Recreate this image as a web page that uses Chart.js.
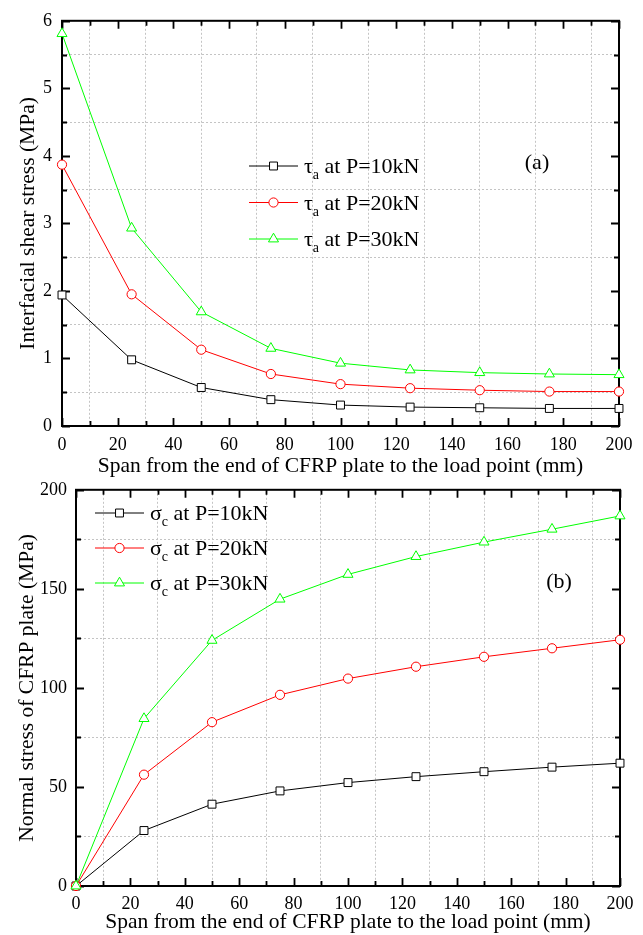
<!DOCTYPE html>
<html>
<head>
<meta charset="UTF-8">
<title>Interfacial shear stress and normal stress of CFRP plate</title>
<script src="https://cdn.jsdelivr.net/npm/chart.js"></script>
<style>
    body { margin: 0; background: #fff; }
    .painel { position: absolute; left: 0; }
</style>
</head>
<body>
    <div class="painel" style="top: 0px;"><canvas id="grafA" width="643" height="480"></canvas></div>
    <div class="painel" style="top: 470px;"><canvas id="grafB" width="643" height="465"></canvas></div>

<script>
    // dados
    const vaos = [0, 25, 50, 75, 100, 125, 150, 175, 200];

    const tau10 = [1.94, 0.98, 0.57, 0.39, 0.31, 0.28, 0.27, 0.26, 0.26];
    const tau20 = [3.87, 1.95, 1.13, 0.77, 0.62, 0.56, 0.53, 0.51, 0.51];
    const tau30 = [5.81, 2.93, 1.69, 1.15, 0.93, 0.83, 0.79, 0.77, 0.76];

    const sig10 = [0, 28, 41.3, 48, 52.2, 55.2, 57.7, 60, 62];
    const sig20 = [0, 56.2, 82.7, 96.5, 104.7, 110.7, 115.7, 120, 124.3];
    const sig30 = [0, 84.5, 124, 144.8, 157.3, 166.3, 173.6, 180.1, 186.8];

    const cargas = ['P=10kN', 'P=20kN', 'P=30kN'];
    const cores = ['#000000', '#ff0000', '#00ff00'];
    const marcadores = ['rect', 'circle', 'triangle'];
    const raios = [5.6, 4.6, 5.8];

    const tituloX = 'Span from the end of CFRP plate to the load point (mm)';

    Chart.defaults.font.family = '"Liberation Serif", "Times New Roman", serif';
    Chart.defaults.color = '#000';

    function ehMaior(v, passo) {
        return Math.abs(v / passo - Math.round(v / passo)) < 1e-6;
    }

    function montarSeries(listas) {
        return listas.map(function (valores, i) {
            return {
                label: cargas[i],
                data: vaos.map(function (x, j) { return { x: x, y: valores[j] }; }),
                borderColor: cores[i],
                borderWidth: 1,
                pointStyle: marcadores[i],
                pointRadius: raios[i],
                pointBackgroundColor: '#ffffff',
                pointBorderColor: cores[i],
                pointBorderWidth: 1,
                tension: 0,
                clip: false,
                order: 2 - i
            };
        });
    }

    function desenharMarcador(ctx, tipo, x, y, r) {
        ctx.beginPath();
        if (tipo === 'rect') {
            const s = r * Math.SQRT1_2;
            ctx.rect(x - s, y - s, 2 * s, 2 * s);
        } else if (tipo === 'circle') {
            ctx.arc(x, y, r, 0, Math.PI * 2);
        } else {
            for (let k = 0; k < 3; k++) {
                const a = k * 2 * Math.PI / 3;
                const px = x + Math.sin(a) * r, py = y - Math.cos(a) * r;
                if (k === 0) ctx.moveTo(px, py); else ctx.lineTo(px, py);
            }
            ctx.closePath();
        }
        ctx.fill();
        ctx.stroke();
    }

    // moldura e marcas para dentro
    const moldura = {
        id: 'moldura',
        beforeDatasetsDraw(chart, args, op) {
            const ctx = chart.ctx, a = chart.chartArea;
            const xs = chart.scales.x, ys = chart.scales.y;
            ctx.save();
            ctx.strokeStyle = '#000';
            ctx.lineWidth = 1.8;
            ctx.beginPath();
            xs.ticks.forEach(function (t) {
                const px = Math.round(xs.getPixelForValue(t.value)) + 0.5;
                const len = ehMaior(t.value, op.passoX * 2) ? 8 : 5;
                ctx.moveTo(px, a.bottom); ctx.lineTo(px, a.bottom - len);
                ctx.moveTo(px, a.top); ctx.lineTo(px, a.top + len);
            });
            ys.ticks.forEach(function (t) {
                const py = Math.round(ys.getPixelForValue(t.value)) + 0.5;
                const len = ehMaior(t.value, op.passoY * 2) ? 8 : 5;
                ctx.moveTo(a.left, py); ctx.lineTo(a.left + len, py);
                ctx.moveTo(a.right, py); ctx.lineTo(a.right - len, py);
            });
            ctx.stroke();
            ctx.lineWidth = 2;
            ctx.strokeRect(a.left, a.top, a.right - a.left, a.bottom - a.top);
            ctx.restore();
        }
    };

    // legenda com subscrito e rotulo (a)/(b)
    const legendaSub = {
        id: 'legendaSub',
        afterDraw(chart, args, op) {
            const ctx = chart.ctx;
            ctx.save();
            chart.data.datasets.forEach(function (ds, i) {
                const y = op.y + i * op.dy;
                ctx.strokeStyle = ds.borderColor;
                ctx.lineWidth = 1;
                ctx.beginPath();
                ctx.moveTo(op.x, y); ctx.lineTo(op.x + 49, y);
                ctx.stroke();
                ctx.fillStyle = '#fff';
                desenharMarcador(ctx, ds.pointStyle, op.x + 24.5, y, ds.pointRadius);

                let tx = op.x + 55;
                ctx.fillStyle = '#000';
                ctx.textBaseline = 'alphabetic';
                ctx.textAlign = 'left';
                ctx.font = '22px "Liberation Serif", serif';
                ctx.fillText(op.simbolo, tx, y + 7);
                tx += ctx.measureText(op.simbolo).width;
                ctx.font = '14px "Liberation Serif", serif';
                ctx.fillText(op.sub, tx, y + 13);
                tx += ctx.measureText(op.sub).width;
                ctx.font = '22px "Liberation Serif", serif';
                ctx.fillText(' at ' + ds.label, tx, y + 7);
            });
            ctx.font = '22px "Liberation Serif", serif';
            ctx.textAlign = 'center';
            ctx.textBaseline = 'middle';
            ctx.fillText(op.rotulo, op.rx, op.ry);
            ctx.restore();
        }
    };

    function criarGrafico(id, listas, cfg) {
        return new Chart(document.getElementById(id), {
            type: 'line',
            data: { datasets: montarSeries(listas) },
            plugins: [moldura, legendaSub],
            options: {
                responsive: false,
                animation: false,
                layout: { padding: { left: 0, right: cfg.dir, top: 16, bottom: 0 } },
                plugins: {
                    legend: { display: false },
                    tooltip: { enabled: false },
                    moldura: { passoX: 10, passoY: cfg.passoY },
                    legendaSub: cfg.legenda
                },
                scales: {
                    x: {
                        type: 'linear',
                        min: 0, max: 200,
                        afterFit: function (s) { s.height = cfg.altX; },
                        ticks: {
                            stepSize: 10,
                            autoSkip: false,
                            maxRotation: 0,
                            padding: cfg.padX,
                            font: { size: 18 },
                            callback: function (v) { return ehMaior(v, 20) ? v : ''; }
                        },
                        grid: {
                            drawTicks: false,
                            lineWidth: 1,
                            color: function (c) {
                                return c.tick && !ehMaior(c.tick.value, 20) ? '#c4c4c4' : 'rgba(0,0,0,0)';
                            }
                        },
                        border: { display: false, dash: [2, 2] },
                        title: {
                            display: true,
                            text: tituloX,
                            font: { size: 21.5 },
                            padding: { top: 0, bottom: cfg.tituloXpad }
                        }
                    },
                    y: {
                        min: 0, max: cfg.maxY,
                        afterFit: function (s) { s.width = cfg.largY; },
                        ticks: {
                            stepSize: cfg.passoY,
                            autoSkip: false,
                            padding: cfg.padY,
                            font: { size: 18 },
                            callback: function (v) { return ehMaior(v, cfg.passoY * 2) ? v : ''; }
                        },
                        grid: {
                            drawTicks: false,
                            lineWidth: 1,
                            color: function (c) {
                                return c.tick && !ehMaior(c.tick.value, cfg.passoY * 2) ? '#c4c4c4' : 'rgba(0,0,0,0)';
                            }
                        },
                        border: { display: false, dash: [2, 2] },
                        title: {
                            display: true,
                            text: cfg.tituloY,
                            font: { size: 21.5 },
                            padding: { top: cfg.tituloYpad, bottom: 0 }
                        }
                    }
                }
            }
        });
    }

    criarGrafico('grafA', [tau10, tau20, tau30], {
        dir: 24, altX: 54, largY: 62, maxY: 6, passoY: 0.5,
        padX: 8, padY: 10, tituloXpad: 1, tituloYpad: 15,
        tituloY: 'Interfacial shear stress (MPa)',
        legenda: { x: 249, y: 166, dy: 36.5, simbolo: 'τ', sub: 'a', rotulo: '(a)', rx: 537, ry: 163 }
    });

    criarGrafico('grafB', [sig10, sig20, sig30], {
        dir: 23, altX: 49, largY: 76, maxY: 200, passoY: 25,
        padX: 7, padY: 9, tituloXpad: 0, tituloYpad: 14,
        tituloY: 'Normal stress of CFRP plate (MPa)',
        legenda: { x: 95, y: 43, dy: 35, simbolo: 'σ', sub: 'c', rotulo: '(b)', rx: 559, ry: 112 }
    });
</script>
</body>
</html>
